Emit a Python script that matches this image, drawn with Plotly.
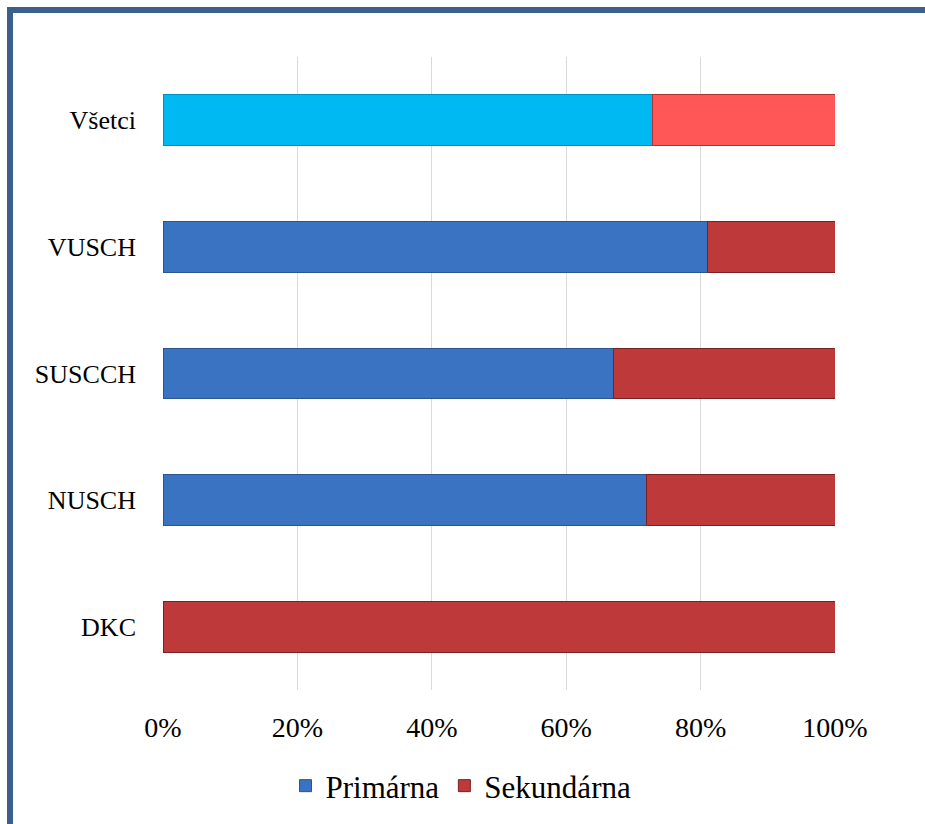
import plotly.graph_objects as go

categories = ["DKC", "NUSCH", "SUSCCH", "VUSCH", "Všetci"]
primarna = [0, 71.9, 67.0, 81.1, 72.8]
sekundarna = [100, 28.1, 33.0, 18.9, 27.2]
tick_vals = [0, 20, 40, 60, 80, 100]
tick_text = ["0%", "20%", "40%", "60%", "80%", "100%"]

prim_colors = ["#3A73C2"] * 4 + ["#00B9F2"]
prim_lines = ["#2A5590"] * 4 + ["#0090C0"]
sek_colors = ["#BE3A3A"] * 4 + ["#FF5757"]
sek_lines = ["#7E2020"] * 4 + ["#B03434"]

font_family = "Liberation Serif, DejaVu Serif, serif"

fig = go.Figure()
fig.add_trace(go.Bar(
    y=categories, x=primarna, orientation="h", name="Primárna",
    marker=dict(color=prim_colors, line=dict(color=prim_lines, width=1)),
    width=0.4,
))
fig.add_trace(go.Bar(
    y=categories, x=sekundarna, orientation="h", name="Sekundárna",
    marker=dict(color=sek_colors, line=dict(color=sek_lines, width=1)),
    width=0.4,
))

W, H = 925, 824
ml, mr, mt, mb = 163, 90, 57, 134
pw, ph = W - ml - mr, H - mt - mb

def px_x(p):
    return (p - ml) / pw

def px_y(p):
    return (H - mb - p) / ph

fig.add_shape(type="rect", xref="paper", yref="paper",
              x0=px_x(10), x1=px_x(960), y0=px_y(860), y1=px_y(10),
              line=dict(color="#3B5F8E", width=6), fillcolor="rgba(0,0,0,0)",
              layer="above")

fig.update_layout(
    width=W, height=H,
    margin=dict(l=ml, r=mr, t=mt, b=mb, autoexpand=False),
    barmode="stack",
    plot_bgcolor="white", paper_bgcolor="white",
    font=dict(family=font_family, size=24, color="#000000"),
    xaxis=dict(range=[0, 100], tickvals=tick_vals, ticktext=tick_text,
               showgrid=True, gridcolor="#D9D9D9", gridwidth=1,
               zeroline=False, showline=False, ticks="",
               tickfont=dict(size=28), ticklabelstandoff=18, automargin=False),
    yaxis=dict(showgrid=False, zeroline=False, showline=False, ticks="",
               tickfont=dict(size=26), ticklabelstandoff=26, automargin=False),
    legend=dict(orientation="h", xref="container", yref="container",
                x=461 / W, xanchor="center",
                y=1 - 786 / H, yanchor="middle",
                font=dict(size=31), itemwidth=30, traceorder="normal"),
    showlegend=True,
)

fig.write_html("out.html", config={"displayModeBar": False},
               post_script="document.body.style.margin='0';")
